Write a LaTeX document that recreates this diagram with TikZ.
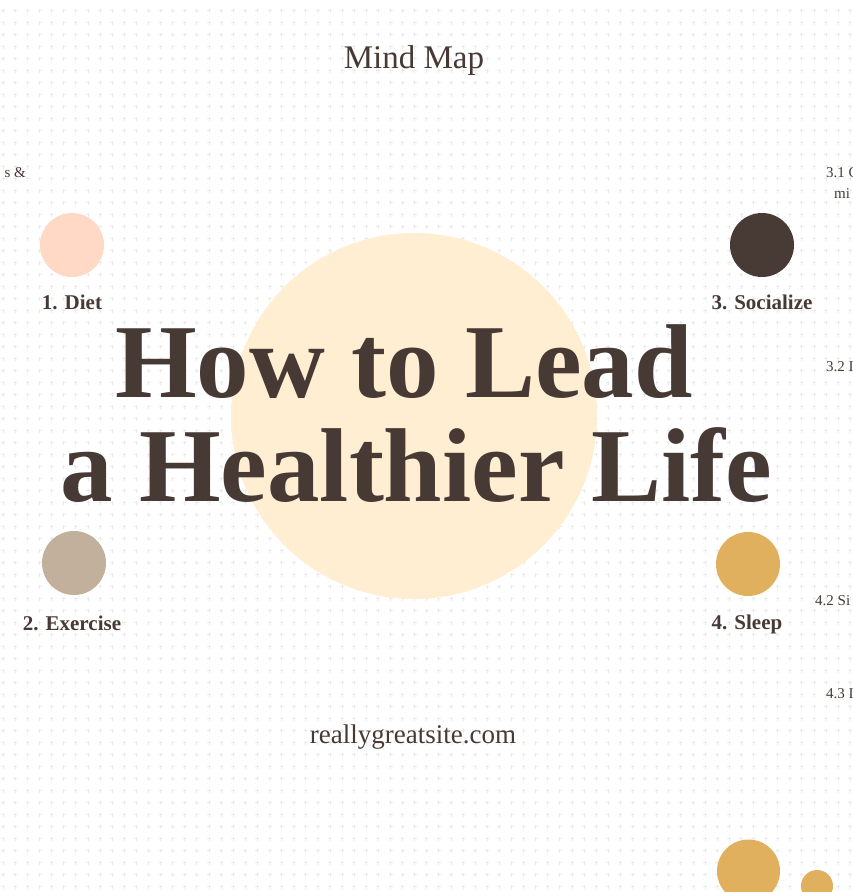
\documentclass[tikz,border=0pt]{standalone}
\usepackage{xcolor}
\usepackage{fontspec}
\setmainfont{Liberation Serif}
\usepackage{tikz}
\usetikzlibrary{positioning}
\definecolor{ink}{HTML}{473A35}
\definecolor{hubfill}{HTML}{FFEED2}
\definecolor{diet}{HTML}{FFD8C6}
\definecolor{exercise}{HTML}{C2B09C}
\definecolor{social}{HTML}{483B36}
\definecolor{sleep}{HTML}{E0B05E}
\definecolor{plus}{HTML}{EBEBEB}

\begin{document}
\begin{tikzpicture}[x=1pt, y=-1pt,
    topic/.style={circle, minimum size=64pt, inner sep=0pt},
    topicname/.style={font=\fontsize{21}{24}\selectfont\bfseries, text=ink, inner sep=0pt},
    subtopic/.style={font=\fontsize{15}{20}\selectfont, text=ink, inner sep=0pt, anchor=west},
    headline/.style={font=\fontsize{105}{105}\selectfont\bfseries, text=ink, inner sep=0pt, anchor=base}
]
    \useasboundingbox[fill=white] (0,0) rectangle (853,892);
    % dotted grid of small pluses
    \draw[plus, line width=0.9pt]
        \foreach \i in {0,...,70} {
            \foreach \j in {0,...,73} {
                ({3.3+12.1*\i-2},{10.7+12.0*\j}) -- ++(4,0)
                ({3.3+12.1*\i},{10.7+12.0*\j-2}) -- ++(0,4)
            }
        };

    % centre
    \node[circle, fill=hubfill, minimum size=366pt, inner sep=0pt] (hub) at (414,416) {};
    \node[headline] (line1) at (404,397) {How to Lead};
    \node[headline] (line2) at (416,501) {a Healthier Life};

    % header and footer
    \node[font=\fontsize{33}{36}\selectfont, text=ink] (head) at (414,61) {Mind Map};
    \node[font=\fontsize{27}{30}\selectfont, text=ink] (site) at (413,737) {reallygreatsite.com};

    % topics
    \node[topic, fill=diet] (diet) at (72,245) {};
    \node[topicname] (dietname) at (72,302) {1. Diet};
    \node[topic, fill=exercise] (exercise) at (74,563) {};
    \node[topicname] (exercisename) at (72,623) {2. Exercise};
    \node[topic, fill=social] (social) at (762,245) {};
    \node[topicname] (socialname) at (762,302) {3. Socialize};
    \node[topic, fill=sleep] (sleep) at (748,564) {};
    \node[topicname] (sleepname) at (747,624) {4. Sleep};

    % bottom circles
    \node[topic, fill=sleep, minimum size=63pt] (more) at (748.5,871) {};
    \node[topic, fill=sleep, minimum size=32pt] (small) at (817,886) {};

    % cut-off sub topics
    \node[subtopic, anchor=east] (d1) at (26,173) {s \&};
    \node[subtopic] (s1) at (826,173) {3.1 C};
    \node[subtopic] (s1b) at (834,194) {mi};
    \node[subtopic] (s2) at (826,367) {3.2 I};
    \node[subtopic] (z2) at (815,601) {4.2 Si};
    \node[subtopic] (z3) at (826,694) {4.3 I};
\end{tikzpicture}
\end{document}
